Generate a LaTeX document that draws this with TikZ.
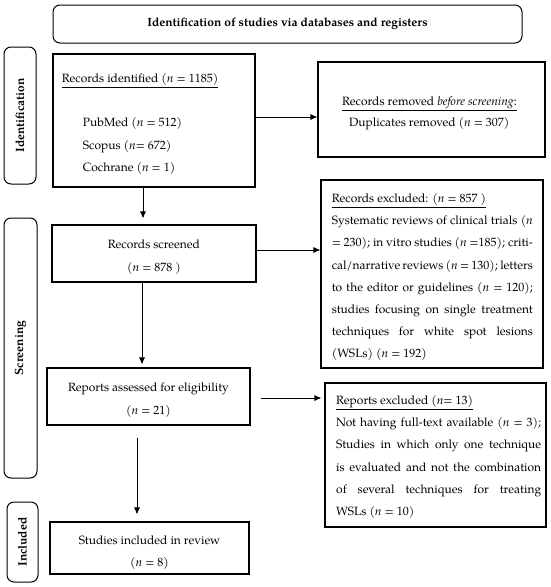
\documentclass[tikz,border=0pt]{standalone}
\usepackage{fontspec}
\setmainfont{texgyrepagella}[Extension=.otf, UprightFont=*-regular, BoldFont=*-bold, ItalicFont=*-italic, BoldItalicFont=*-bolditalic]
\usetikzlibrary{arrows.meta,calc}
\newcommand\jline[1]{\hbox to \hsize{#1}}
\newcommand\lline[1]{\hbox to \hsize{#1\hfil}}
\newcommand\parlines[2]{\vtop{\hsize=#1\baselineskip=22.2pt\lineskiplimit=-10pt #2}}
\begin{document}
\begin{tikzpicture}[x=1pt,y=-1pt,
  box/.style={draw, line width=1.1pt, inner sep=0pt},
  rbox/.style={draw, line width=1.0pt, rounded corners=7pt, inner sep=0pt},
  txt/.style={inner sep=0pt, font=\fontsize{12}{14}\selectfont},
  para/.style={inner sep=0pt, font=\fontsize{12}{22.2}\selectfont},
  stage/.style={inner sep=0pt, rotate=90, font=\fontsize{12}{14}\selectfont\bfseries},
  arr/.style={line width=0.8pt, -{Latex[length=7pt,width=6pt]}}]
\useasboundingbox (0,0) rectangle (550,587);
% boxes
\node[rbox, minimum width=469pt, minimum height=38pt] (top) at (287.5,24) {};
\node[rbox, minimum width=32pt, minimum height=137pt] (sid) at (20,115.5) {};
\node[rbox, minimum width=33pt, minimum height=260pt] (sscr) at (20.5,348) {};
\node[rbox, minimum width=31pt, minimum height=80pt] (sinc) at (22.5,542) {};
\node[box, minimum width=202pt, minimum height=133pt] (ident) at (154,120.5) {};
\node[box, minimum width=227pt, minimum height=95pt] (rem) at (431.5,109.5) {};
\node[box, minimum width=204pt, minimum height=57pt] (screen) at (154,253.5) {};
\node[box, minimum width=222pt, minimum height=188pt] (excl) at (432,274) {};
\node[box, minimum width=203pt, minimum height=57pt] (assess) at (148.5,396.5) {};
\node[box, minimum width=221pt, minimum height=144pt] (rexcl) at (435.5,455) {};
\node[box, minimum width=199pt, minimum height=52pt] (incl) at (149.5,548) {};
% header and stage labels
\node[txt, font=\fontsize{12}{14}\selectfont\bfseries] (toptxt) at (top.center) {Identification of studies via databases and registers};
\node[stage] (lid) at (sid.center) {Identification};
\node[stage] (lscr) at (sscr.center) {Screening};
\node[stage] (linc) at (sinc.center) {Included};
% identified texts
\node[txt, anchor=base west] (t1) at (61.7,82.5) {\underline{Records identified (\textit{n} = 1185)}};
\node[txt, anchor=base west] (t2) at (82.7,126) {PubMed (\textit{n} = 512)};
\node[txt, anchor=base west] (t3) at (82.7,149.5) {Scopus (\textit{n}= 672)};
\node[txt, anchor=base west] (t4) at (82.7,171) {Cochrane (\textit{n} = 1)};
% removed texts
\node[txt, anchor=base west] (t5) at (342,105.5) {\underline{Records removed \textit{before screening}:}};
\node[txt, anchor=base west] (t6) at (349,126.5) {Duplicates removed (\textit{n} = 307)};
% screened
\node[txt, anchor=base] (t7) at (154,248.5) {Records screened};
\node[txt, anchor=base] (t8) at (154,271.5) {(\textit{n} = 878 )};
% assessed
\node[txt, anchor=base] (t9) at (148.5,391.5) {Reports assessed for eligibility};
\node[txt, anchor=base] (t10) at (148.5,414.5) {(\textit{n} = 21)};
% included
\node[txt, anchor=base] (t11) at (149.5,544.5) {Studies included in review};
\node[txt, anchor=base] (t12) at (149.5,566.5) {(\textit{n} = 8)};
% excluded paragraph
\node[para, anchor=base west] (t13) at (331.7,202.5) {\parlines{201pt}{%
\lline{\underline{Records excluded: (\textit{n} = 857 )}}%
\jline{Systematic reviews of clinical trials (\textit{n}}%
\jline{= 230); in vitro studies (\textit{n} =185); criti-}%
\jline{cal/narrative reviews (\textit{n} = 130); letters}%
\jline{to the editor or guidelines (\textit{n} = 120);}%
\jline{studies focusing on single treatment}%
\jline{techniques for white spot lesions}%
\lline{(WSLs) (\textit{n} = 192)}}};
% reports excluded paragraph
\node[para, anchor=base west] (t14) at (336,404.5) {\parlines{205pt}{%
\lline{\underline{Reports excluded (\textit{n}= 13)}}%
\jline{Not having full-text available (\textit{n} = 3);}%
\jline{Studies in which only one technique}%
\jline{is evaluated and not the combination}%
\jline{of several techniques for treating}%
\lline{WSLs (\textit{n} = 10)}}};
% arrow rows / columns
\coordinate (r1) at (0,117);
\coordinate (r2) at (0,250);
\coordinate (r3) at (0,398);
\coordinate (c1) at (143,0);
\coordinate (c2) at (142,0);
\coordinate (c3) at (137,0);
\draw[arr] (ident.east |- r1) -- (rem.west |- r1);
\draw[arr] (screen.east |- r2) -- (excl.west |- r2);
\draw[arr, shorten <=10pt, shorten >=3pt] (assess.east |- r3) -- (rexcl.west |- r3);
\draw[arr, shorten >=6pt] (ident.south -| c1) -- (screen.north -| c1);
\draw[arr, shorten >=3pt] (screen.south -| c2) -- (assess.north -| c2);
\draw[arr, shorten <=12pt, shorten >=7pt] (assess.south -| c3) -- (incl.north -| c3);
\end{tikzpicture}
\end{document}
